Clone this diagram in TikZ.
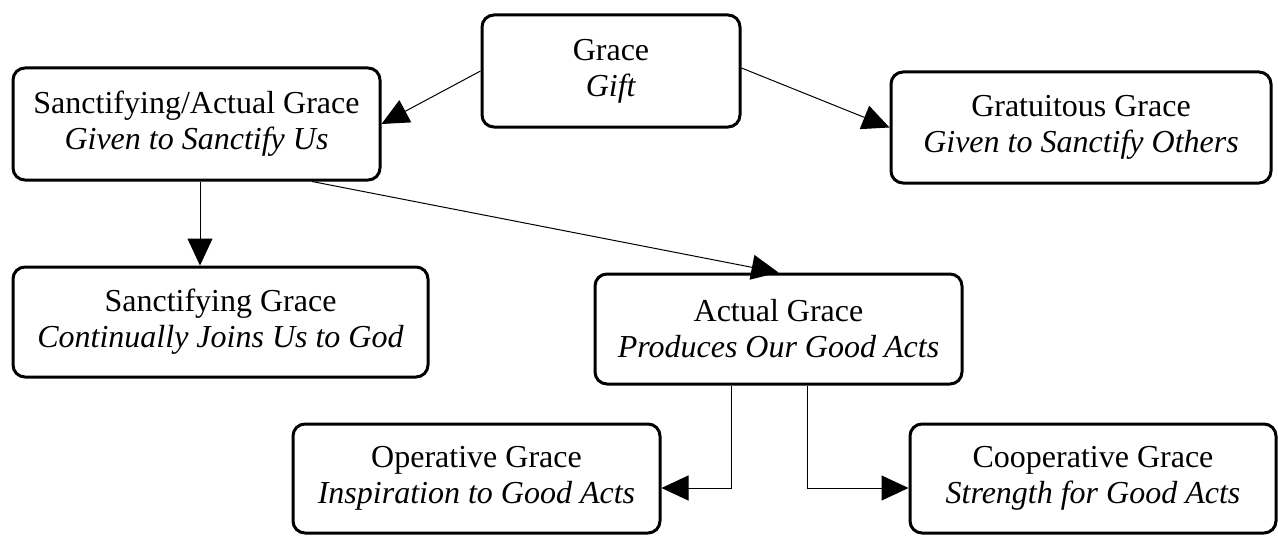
\documentclass[tikz,border=0pt]{standalone}
\usepackage{fontspec}
\setmainfont{Liberation Serif}
\usetikzlibrary{arrows.meta}

\tikzset{
  box/.style={draw, line width=1.5pt, rounded corners=6pt, align=center,
    inner sep=0pt, font=\fontsize{16}{18}\selectfont},
  link/.style={line width=0.5pt, -{Triangle[length=13.5pt,width=12.5pt]}}
}

\begin{document}
\begin{tikzpicture}[x=0.5pt,y=-0.5pt]
        \useasboundingbox (0,0) rectangle (1278,535);

        % Caselle
        \node[box, minimum width=129pt, minimum height=56pt] (grace) at (611,71) {Grace\\\textit{Gift}};
        \node[box, minimum width=183.5pt, minimum height=56pt] (sanctact) at (196.5,124) {Sanctifying/Actual Grace\\\textit{Given to Sanctify Us}};
        \node[box, minimum width=190pt, minimum height=55.5pt] (gratuit) at (1081,127.5) {Gratuitous Grace\\\textit{Given to Sanctify Others}};
        \node[box, minimum width=207.5pt, minimum height=55pt] (sanctif) at (220.5,322) {Sanctifying Grace\\\textit{Continually Joins Us to God}};
        \node[box, minimum width=183.5pt, minimum height=55pt] (actual) at (778.5,329) {Actual Grace\\\textit{Produces Our Good Acts}};
        \node[box, minimum width=183.5pt, minimum height=54.5pt] (operat) at (476.5,478.5) {Operative Grace\\\textit{Inspiration to Good Acts}};
        \node[box, minimum width=183pt, minimum height=54.5pt] (cooperat) at (1093,478.5) {Cooperative Grace\\\textit{Strength for Good Acts}};

        % Frecce
        \draw[link] (grace.west) -- (sanctact.east);
        \draw[link] ([yshift=1.5pt]grace.east) -- (gratuit.west);
        \draw[link] ([xshift=1.75pt]sanctact.south) -- ([xshift=1.75pt]sanctact.south |- sanctif.north);
        \draw[link] ([xshift=57.75pt]sanctact.south) -- (actual.north);
        \draw[link] ([xshift=-23.75pt]actual.south) |- ([yshift=-4.75pt]operat.east);
        \draw[link] ([xshift=14.25pt]actual.south) |- ([yshift=-4.75pt]cooperat.west);
\end{tikzpicture}
\end{document}
